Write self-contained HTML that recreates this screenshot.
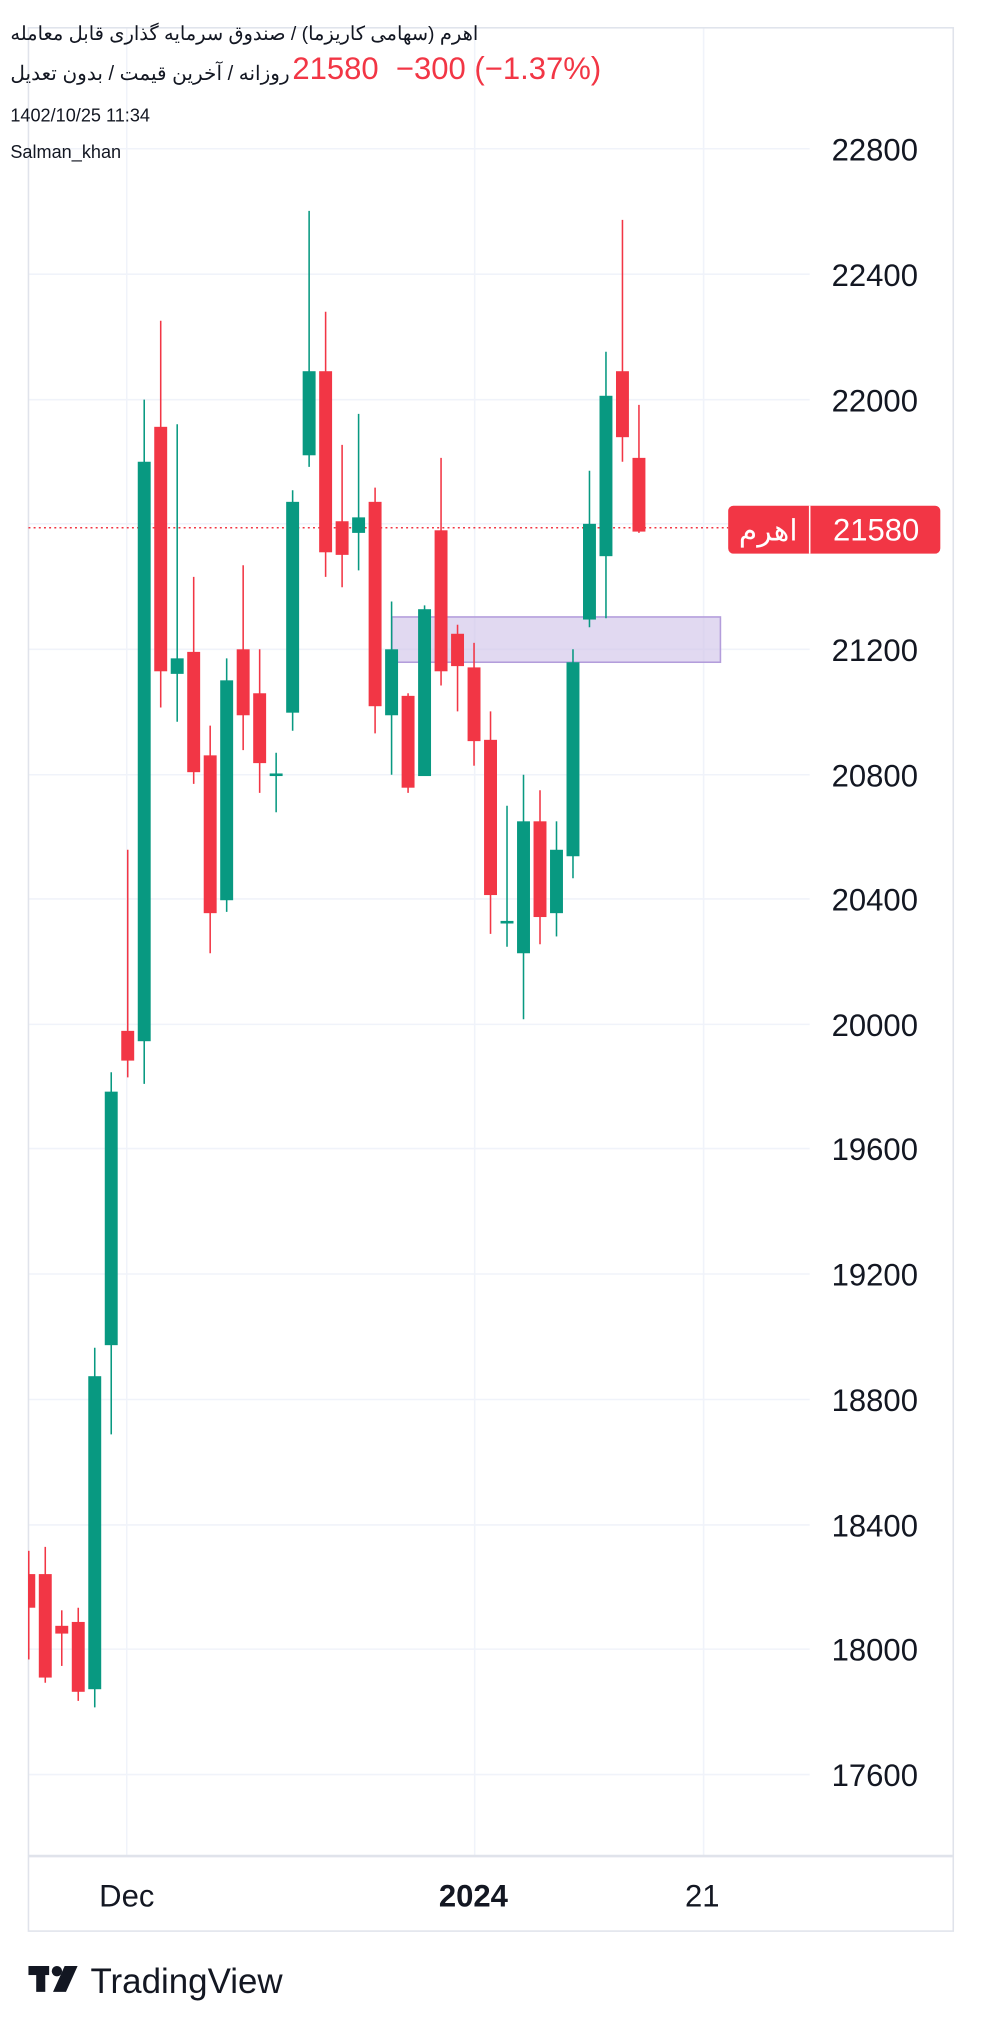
<!DOCTYPE html>
<html><head><meta charset="utf-8"><style>
html,body{margin:0;padding:0;background:#fff;}
#w{width:983px;height:2030px;overflow:hidden;position:relative;}
#c{position:absolute;left:0;top:0;width:760px;height:1570px;transform:scale(1.29342);transform-origin:0 0;font-family:"Liberation Sans","Noto Sans CJK SC",sans-serif;color:#131722;}
.t{position:absolute;white-space:nowrap;}
</style></head><body><div id="w"><div id="c">
<svg width="760" height="1570" viewBox="0 0 760 1570" style="position:absolute;left:0;top:0">
<g stroke="#f0f3fa" stroke-width="1.2">
<line x1="22" y1="115" x2="626" y2="115"/><line x1="22" y1="212" x2="626" y2="212"/><line x1="22" y1="309" x2="626" y2="309"/><line x1="22" y1="405" x2="626" y2="405"/><line x1="22" y1="502" x2="626" y2="502"/><line x1="22" y1="599" x2="626" y2="599"/><line x1="22" y1="695" x2="626" y2="695"/><line x1="22" y1="792" x2="626" y2="792"/><line x1="22" y1="888" x2="626" y2="888"/><line x1="22" y1="985" x2="626" y2="985"/><line x1="22" y1="1082" x2="626" y2="1082"/><line x1="22" y1="1179" x2="626" y2="1179"/><line x1="22" y1="1275" x2="626" y2="1275"/><line x1="22" y1="1372" x2="626" y2="1372"/>
<line x1="98" y1="22" x2="98" y2="1435"/><line x1="367" y1="22" x2="367" y2="1435"/><line x1="544" y1="22" x2="544" y2="1435"/>
</g>
<g stroke="#e0e3eb" stroke-width="1.2" fill="none">
<rect x="22" y="21.5" width="715" height="1471.5"/>
<line x1="22" y1="1435" x2="737" y2="1435" stroke-width="2"/>
</g>
<rect x="303" y="477" width="254" height="35" fill="#d1c4e9" fill-opacity="0.65" stroke="#b39ddb" stroke-width="1.2"/>
<line x1="22" y1="408" x2="563" y2="408" stroke="#f23645" stroke-width="1.2" stroke-dasharray="1.5,2.5"/>
<g id="cd"></g>
<rect x="563" y="391" width="164" height="37" rx="4" fill="#f23645"/>
<line x1="626" y1="391" x2="626" y2="428" stroke="#fff" stroke-width="1.2"/>
<text x="594" y="418" fill="#fff" font-size="23" text-anchor="middle" font-family="Liberation Sans,Noto Sans CJK SC,sans-serif">اهرم</text>
<text x="644" y="418" fill="#fff" font-size="24" font-family="Liberation Sans,sans-serif">21580</text>
<g font-size="24" fill="#131722" font-family="Liberation Sans,sans-serif">
<text x="643" y="124">22800</text><text x="643" y="221">22400</text><text x="643" y="318">22000</text><text x="643" y="511">21200</text><text x="643" y="608">20800</text><text x="643" y="704">20400</text><text x="643" y="801">20000</text><text x="643" y="897">19600</text><text x="643" y="994">19200</text><text x="643" y="1091">18800</text><text x="643" y="1188">18400</text><text x="643" y="1284">18000</text><text x="643" y="1381">17600</text>
<text x="98" y="1474" text-anchor="middle">Dec</text><text x="366" y="1474" text-anchor="middle" font-weight="bold">2024</text><text x="543" y="1474" text-anchor="middle">21</text>
</g>
<g fill="#131722"><rect x="22" y="1520" width="16" height="7"/><rect x="28" y="1520" width="7" height="20"/><circle cx="44" cy="1524" r="4"/><polygon points="50,1520 60,1520 51,1540 41,1540"/></g>
<text x="70" y="1541" font-size="27" fill="#131722" font-family="Liberation Sans,sans-serif">TradingView</text>
</svg>
<div class="t" style="left:8px;top:17px;font-size:15px;" dir="rtl">اهرم (سهامی کاریزما) / صندوق سرمایه گذاری قابل معامله</div>
<div class="t" style="left:8px;top:48px;font-size:15.5px;" dir="rtl">روزانه / آخرین قیمت / بدون تعدیل</div>
<div class="t" style="left:226px;top:40px;font-size:24px;color:#f23645;">21580&nbsp; −300 (−1.37%)</div>
<div class="t" style="left:8px;top:81px;font-size:14px;">1402/10/25 11:34</div>
<div class="t" style="left:8px;top:109px;font-size:14px;">Salman_khan</div>
</div></div>
<script>
var D=[
[-7,'r',1199,1217,1243,1283],[-6,'r',1196,1217,1297,1301],[-5,'r',1245,1257,1263,1288],[-4,'r',1243,1254,1308,1315],
[-3,'g',1042,1064,1306,1320],[-2,'g',829,844,1040,1109],[-1,'r',657,797,820,833],[0,'g',309,357,805,838],
[1,'r',248,330,519,547],[2,'g',328,509,521,558],[3,'r',446,504,597,606],[4,'r',561,584,706,737],
[5,'g',509,526,696,705],[6,'r',437,502,553,580],[7,'r',502,536,590,613],[8,'g',582,598,600,628],
[9,'g',379,388,551,565],[10,'g',163,287,352,361],[11,'r',241,287,427,446],[12,'r',344,403,429,454],
[13,'g',320,400,412,441],[14,'r',377,388,546,567],[15,'g',465,502,553,599],[16,'r',536,538,609,613],
[17,'g',468,471,600,600],[18,'r',354,410,519,530],[19,'r',483,490,515,550],[20,'r',497,516,573,592],
[21,'r',550,572,692,722],[22,'g',623,712,714,732],[23,'g',599,635,737,788],[24,'r',611,635,709,730],
[25,'g',635,657,706,724],[26,'g',502,512,662,679],[27,'g',364,405,479,485],[28,'g',272,306,430,478],
[29,'r',170,287,338,357],[30,'r',313,354,411,412]];
var s='';
D.forEach(function(d){var x=111.5+12.75*d[0];var c=d[1]=='g'?'#089981':'#f23645';
var l=Math.max(22,x-5),r=x+5;if(r<=l)return;
if(x>=22)s+='<line x1="'+x+'" y1="'+d[2]+'" x2="'+x+'" y2="'+d[5]+'" stroke="'+c+'" stroke-width="1.2"/>';
else s+='<line x1="22.5" y1="'+d[2]+'" x2="22.5" y2="'+d[5]+'" stroke="'+c+'" stroke-width="1.2"/>';
s+='<rect x="'+l+'" y="'+d[3]+'" width="'+(r-l)+'" height="'+Math.max(1.5,d[4]-d[3])+'" fill="'+c+'"/>';});
document.getElementById('cd').innerHTML=s;
</script>
</body></html>
